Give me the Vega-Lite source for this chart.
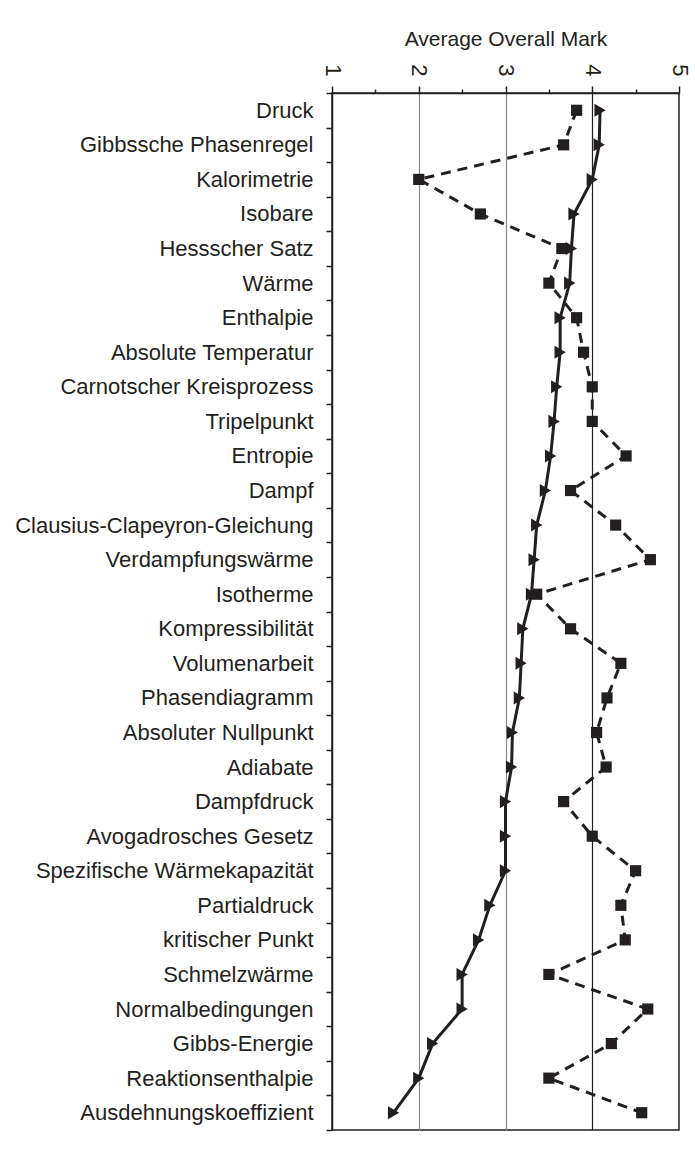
{
  "$schema": "https://vega.github.io/schema/vega-lite/v6.json",
  "width": 347,
  "height": 1037,
  "autosize": "none",
  "padding": {"left": 332, "top": 93, "right": 16, "bottom": 26},
  "background": "white",
  "config": {
    "font": "Liberation Sans",
    "view": {"stroke": "#231f20", "strokeWidth": 1.5}
  },
  "data": {
    "values": [
      {"rank": 1, "term": "Druck", "series": "tri", "value": 4.09},
      {"rank": 2, "term": "Gibbssche Phasenregel", "series": "tri", "value": 4.08},
      {"rank": 3, "term": "Kalorimetrie", "series": "tri", "value": 4.0},
      {"rank": 4, "term": "Isobare", "series": "tri", "value": 3.79},
      {"rank": 5, "term": "Hessscher Satz", "series": "tri", "value": 3.76},
      {"rank": 6, "term": "Wärme", "series": "tri", "value": 3.74},
      {"rank": 7, "term": "Enthalpie", "series": "tri", "value": 3.63},
      {"rank": 8, "term": "Absolute Temperatur", "series": "tri", "value": 3.63},
      {"rank": 9, "term": "Carnotscher Kreisprozess", "series": "tri", "value": 3.59},
      {"rank": 10, "term": "Tripelpunkt", "series": "tri", "value": 3.56},
      {"rank": 11, "term": "Entropie", "series": "tri", "value": 3.52},
      {"rank": 12, "term": "Dampf", "series": "tri", "value": 3.46},
      {"rank": 13, "term": "Clausius-Clapeyron-Gleichung", "series": "tri", "value": 3.36},
      {"rank": 14, "term": "Verdampfungswärme", "series": "tri", "value": 3.33},
      {"rank": 15, "term": "Isotherme", "series": "tri", "value": 3.3},
      {"rank": 16, "term": "Kompressibilität", "series": "tri", "value": 3.2},
      {"rank": 17, "term": "Volumenarbeit", "series": "tri", "value": 3.18},
      {"rank": 18, "term": "Phasendiagramm", "series": "tri", "value": 3.16},
      {"rank": 19, "term": "Absoluter Nullpunkt", "series": "tri", "value": 3.08},
      {"rank": 20, "term": "Adiabate", "series": "tri", "value": 3.07},
      {"rank": 21, "term": "Dampfdruck", "series": "tri", "value": 3.0},
      {"rank": 22, "term": "Avogadrosches Gesetz", "series": "tri", "value": 3.0},
      {"rank": 23, "term": "Spezifische Wärmekapazität", "series": "tri", "value": 3.0},
      {"rank": 24, "term": "Partialdruck", "series": "tri", "value": 2.82},
      {"rank": 25, "term": "kritischer Punkt", "series": "tri", "value": 2.69},
      {"rank": 26, "term": "Schmelzwärme", "series": "tri", "value": 2.5},
      {"rank": 27, "term": "Normalbedingungen", "series": "tri", "value": 2.5},
      {"rank": 28, "term": "Gibbs-Energie", "series": "tri", "value": 2.16},
      {"rank": 29, "term": "Reaktionsenthalpie", "series": "tri", "value": 2.0},
      {"rank": 30, "term": "Ausdehnungskoeffizient", "series": "tri", "value": 1.71},
      {"rank": 1, "term": "Druck", "series": "sq", "value": 3.82},
      {"rank": 2, "term": "Gibbssche Phasenregel", "series": "sq", "value": 3.67},
      {"rank": 3, "term": "Kalorimetrie", "series": "sq", "value": 2.0},
      {"rank": 4, "term": "Isobare", "series": "sq", "value": 2.71},
      {"rank": 5, "term": "Hessscher Satz", "series": "sq", "value": 3.65},
      {"rank": 6, "term": "Wärme", "series": "sq", "value": 3.5},
      {"rank": 7, "term": "Enthalpie", "series": "sq", "value": 3.82},
      {"rank": 8, "term": "Absolute Temperatur", "series": "sq", "value": 3.9},
      {"rank": 9, "term": "Carnotscher Kreisprozess", "series": "sq", "value": 4.0},
      {"rank": 10, "term": "Tripelpunkt", "series": "sq", "value": 4.0},
      {"rank": 11, "term": "Entropie", "series": "sq", "value": 4.39},
      {"rank": 12, "term": "Dampf", "series": "sq", "value": 3.75},
      {"rank": 13, "term": "Clausius-Clapeyron-Gleichung", "series": "sq", "value": 4.27},
      {"rank": 14, "term": "Verdampfungswärme", "series": "sq", "value": 4.67},
      {"rank": 15, "term": "Isotherme", "series": "sq", "value": 3.36},
      {"rank": 16, "term": "Kompressibilität", "series": "sq", "value": 3.75},
      {"rank": 17, "term": "Volumenarbeit", "series": "sq", "value": 4.33},
      {"rank": 18, "term": "Phasendiagramm", "series": "sq", "value": 4.17},
      {"rank": 19, "term": "Absoluter Nullpunkt", "series": "sq", "value": 4.05},
      {"rank": 20, "term": "Adiabate", "series": "sq", "value": 4.16},
      {"rank": 21, "term": "Dampfdruck", "series": "sq", "value": 3.67},
      {"rank": 22, "term": "Avogadrosches Gesetz", "series": "sq", "value": 4.0},
      {"rank": 23, "term": "Spezifische Wärmekapazität", "series": "sq", "value": 4.5},
      {"rank": 24, "term": "Partialdruck", "series": "sq", "value": 4.33},
      {"rank": 25, "term": "kritischer Punkt", "series": "sq", "value": 4.38},
      {"rank": 26, "term": "Schmelzwärme", "series": "sq", "value": 3.5},
      {"rank": 27, "term": "Normalbedingungen", "series": "sq", "value": 4.64},
      {"rank": 28, "term": "Gibbs-Energie", "series": "sq", "value": 4.22},
      {"rank": 29, "term": "Reaktionsenthalpie", "series": "sq", "value": 3.5},
      {"rank": 30, "term": "Ausdehnungskoeffizient", "series": "sq", "value": 4.57}
    ]
  },
  "encoding": {
    "y": {
      "field": "term",
      "type": "nominal",
      "sort": null,
      "scale": {"type": "band", "paddingInner": 0, "paddingOuter": 0},
      "axis": {
        "title": null,
        "labelFontSize": 22,
        "labelColor": "#231f20",
        "labelPadding": 13,
        "tickSize": 6,
        "tickColor": "#231f20",
        "tickWidth": 1.5,
        "tickBand": "extent",
        "domainColor": "#231f20",
        "domainWidth": 1.5,
        "labelLimit": 400
      }
    }
  },
  "layer": [
    {
      "transform": [{"filter": "datum.series == 'tri'"}],
      "mark": {"type": "line", "color": "#231f20", "strokeWidth": 3},
      "encoding": {
        "order": {"field": "rank", "type": "quantitative"},
        "x": {
          "field": "value",
          "type": "quantitative",
          "scale": {"domain": [1, 5], "nice": false, "zero": false},
          "axis": {
            "orient": "top",
            "title": "Average Overall Mark",
            "titleFontSize": 21,
            "titleFontWeight": "normal",
            "titleColor": "#231f20",
            "titlePadding": 14,
            "values": [1, 1.5, 2, 2.5, 3, 3.5, 4, 4.5, 5],
            "labelExpr": "datum.value % 1 == 0 ? format(datum.value, 'd') : ''",
            "labelAngle": 90,
            "labelFontSize": 22,
            "labelColor": "#231f20",
            "labelPadding": 10,
            "labelFlush": false,
            "labelOverlap": false,
            "tickSize": {"condition": {"test": "datum.value % 1 != 0", "value": 4}, "value": 7},
            "tickColor": "#231f20",
            "tickWidth": 1.5,
            "domainColor": "#231f20",
            "domainWidth": 1.5,
            "grid": true,
            "gridColor": {"condition": {"test": "datum.value == 4", "value": "#231f20"}, "value": "#8a8a8a"},
            "gridOpacity": {"condition": {"test": "datum.value % 1 != 0 || datum.value == 1 || datum.value == 5", "value": 0}, "value": 1},
            "gridWidth": 1.2
          }
        }
      }
    },
    {
      "transform": [{"filter": "datum.series == 'sq'"}],
      "mark": {"type": "line", "color": "#231f20", "strokeWidth": 3, "strokeDash": [10, 7]},
      "encoding": {
        "order": {"field": "rank", "type": "quantitative"},
        "x": {"field": "value", "type": "quantitative"}
      }
    },
    {
      "transform": [{"filter": "datum.series == 'tri'"}],
      "mark": {"type": "point", "shape": "triangle-right", "filled": true, "color": "#231f20", "opacity": 1, "size": 170},
      "encoding": {
        "x": {"field": "value", "type": "quantitative"}
      }
    },
    {
      "transform": [{"filter": "datum.series == 'sq'"}],
      "mark": {"type": "point", "shape": "square", "filled": true, "color": "#231f20", "opacity": 1, "size": 125},
      "encoding": {
        "x": {"field": "value", "type": "quantitative"}
      }
    }
  ]
}
